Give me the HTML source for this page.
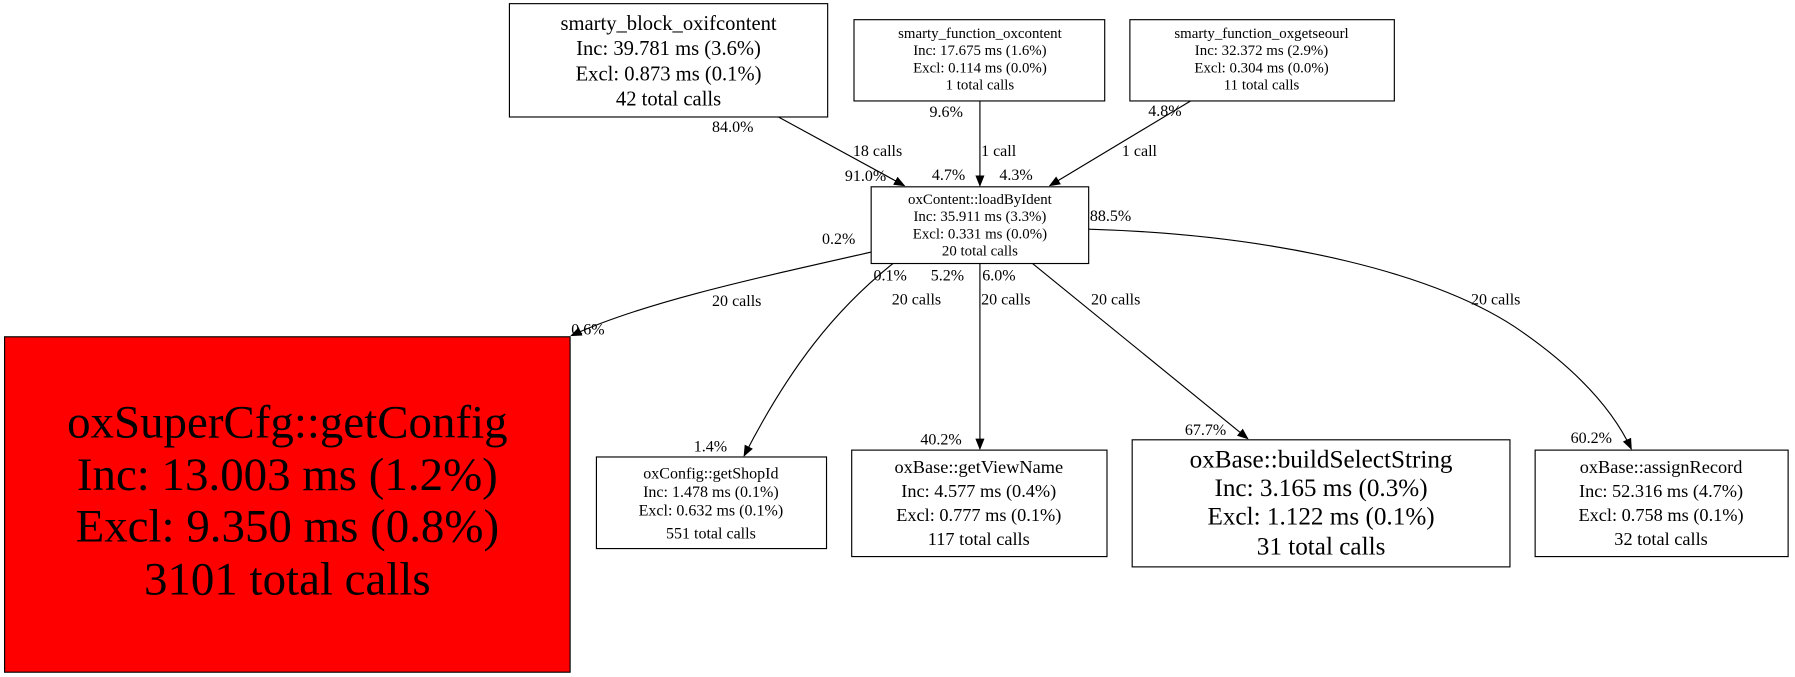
<!DOCTYPE html>
<html><head><meta charset="utf-8"><style>
html,body{margin:0;padding:0;background:#fff;}
svg{display:block;}
text{font-family:"Liberation Serif","DejaVu Serif",serif;fill:#000;}
</style></head><body>
<svg width="1795" height="677" viewBox="0 0 1568 591" xmlns="http://www.w3.org/2000/svg">
<defs><marker id="a" markerWidth="10" markerHeight="8" refX="9" refY="4" orient="auto" markerUnits="userSpaceOnUse"><path d="M0,0 L10,4 L0,8 Z" fill="#000"/></marker></defs>
<g fill="none" stroke="#000" stroke-width="1">
<rect x="445" y="3" width="278" height="99"/>
<rect x="746" y="17" width="219" height="71"/>
<rect x="987" y="17" width="231" height="71"/>
<rect x="761" y="163" width="190" height="67"/>
<rect x="4" y="294" width="494" height="293" fill="#ff0000"/>
<rect x="521" y="399" width="201" height="80"/>
<rect x="744" y="393" width="223" height="93"/>
<rect x="989" y="384" width="330" height="111"/>
<rect x="1341" y="393" width="221" height="93"/>
<path d="M680,102 L790,162" marker-end="url(#a)"/>
<path d="M856,88 L856,162" marker-end="url(#a)"/>
<path d="M1040,88 L917,162" marker-end="url(#a)"/>
<path d="M761,220 C650,245 560,265 499,293" marker-end="url(#a)"/>
<path d="M780,230 C730,270 690,320 650,398" marker-end="url(#a)"/>
<path d="M856,230 L856,392" marker-end="url(#a)"/>
<path d="M902,230 L1090,383" marker-end="url(#a)"/>
<path d="M951,200 C1120,205 1260,240 1330,290 C1380,325 1410,360 1425,392" marker-end="url(#a)"/>
</g>
<g text-anchor="middle">
<g font-size="18"><text x="584" y="26">smarty_block_oxifcontent</text><text x="584" y="48">Inc: 39.781 ms (3.6%)</text><text x="584" y="70">Excl: 0.873 ms (0.1%)</text><text x="584" y="92">42 total calls</text></g>
<g font-size="13"><text x="856" y="33">smarty_function_oxcontent</text><text x="856" y="48">Inc: 17.675 ms (1.6%)</text><text x="856" y="63">Excl: 0.114 ms (0.0%)</text><text x="856" y="78">1 total calls</text></g>
<g font-size="13"><text x="1102" y="33">smarty_function_oxgetseourl</text><text x="1102" y="48">Inc: 32.372 ms (2.9%)</text><text x="1102" y="63">Excl: 0.304 ms (0.0%)</text><text x="1102" y="78">11 total calls</text></g>
<g font-size="13"><text x="856" y="178">oxContent::loadByIdent</text><text x="856" y="193">Inc: 35.911 ms (3.3%)</text><text x="856" y="208">Excl: 0.331 ms (0.0%)</text><text x="856" y="223">20 total calls</text></g>
<g font-size="41"><text x="251" y="382">oxSuperCfg::getConfig</text><text x="251" y="428">Inc: 13.003 ms (1.2%)</text><text x="251" y="473">Excl: 9.350 ms (0.8%)</text><text x="251" y="519">3101 total calls</text></g>
<g font-size="14"><text x="621" y="418">oxConfig::getShopId</text><text x="621" y="434">Inc: 1.478 ms (0.1%)</text><text x="621" y="450">Excl: 0.632 ms (0.1%)</text><text x="621" y="470">551 total calls</text></g>
<g font-size="16"><text x="855" y="413">oxBase::getViewName</text><text x="855" y="434">Inc: 4.577 ms (0.4%)</text><text x="855" y="455">Excl: 0.777 ms (0.1%)</text><text x="855" y="476">117 total calls</text></g>
<g font-size="22"><text x="1154" y="408">oxBase::buildSelectString</text><text x="1154" y="433">Inc: 3.165 ms (0.3%)</text><text x="1154" y="458">Excl: 1.122 ms (0.1%)</text><text x="1154" y="484">31 total calls</text></g>
<g font-size="16"><text x="1451" y="413">oxBase::assignRecord</text><text x="1451" y="434">Inc: 52.316 ms (4.7%)</text><text x="1451" y="455">Excl: 0.758 ms (0.1%)</text><text x="1451" y="476">32 total calls</text></g>
</g>
<g font-size="14">
<text x="622" y="115">84.0%</text><text x="745" y="136">18 calls</text><text x="738" y="158">91.0%</text>
<text x="812" y="102">9.6%</text><text x="857" y="136">1 call</text><text x="814" y="157">4.7%</text>
<text x="1003" y="101">4.8%</text><text x="980" y="136">1 call</text><text x="873" y="157">4.3%</text>
<text x="718" y="213">0.2%</text><text x="622" y="267">20 calls</text><text x="499" y="292">0.6%</text>
<text x="763" y="245">0.1%</text><text x="779" y="266">20 calls</text><text x="606" y="394">1.4%</text>
<text x="813" y="245">5.2%</text><text x="857" y="266">20 calls</text><text x="804" y="388">40.2%</text>
<text x="858" y="245">6.0%</text><text x="953" y="266">20 calls</text><text x="1035" y="380">67.7%</text>
<text x="952" y="193">88.5%</text><text x="1285" y="266">20 calls</text><text x="1372" y="387">60.2%</text>
</g>
</svg>
</body></html>
